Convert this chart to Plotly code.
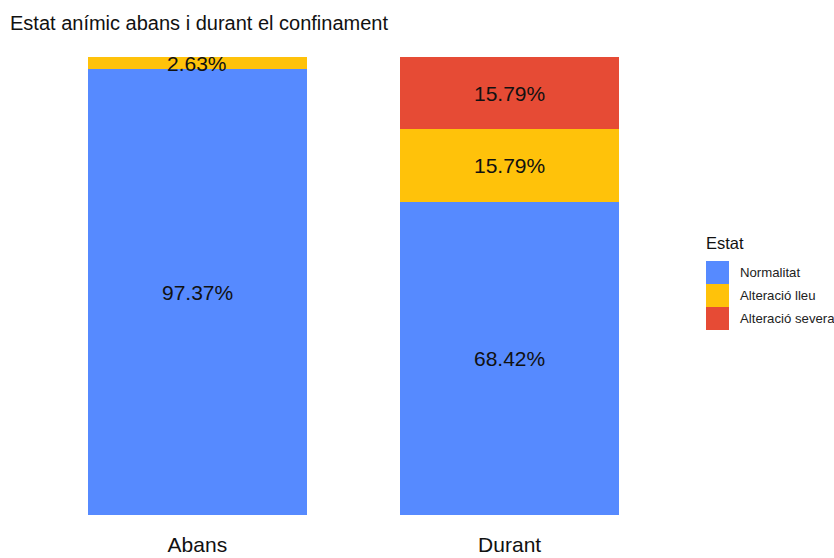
import plotly.graph_objects as go

categories = ["Abans", "Durant"]
series_names = ["Normalitat", "Alteració lleu", "Alteració severa"]
normalitat = [97.37, 68.42]
lleu = [2.63, 15.79]
severa = [0.0, 15.79]
colors = ["#568AFF", "#FFC20A", "#E64B35"]
title = "Estat anímic abans i durant el confinament"
legend_title = "Estat"

FONT = "Liberation Sans, Arial, sans-serif"
series = [normalitat, lleu, severa]
fig = go.Figure()
for name, vals, col in zip(series_names, series, colors):
    fig.add_trace(go.Bar(x=categories, y=vals, name=name, marker=dict(color=col, line=dict(width=0)),
                         width=0.7, showlegend=False, hoverinfo="skip"))

# labels at segment midpoints
for i, cat in enumerate(categories):
    base = 0.0
    for vals in series:
        v = vals[i]
        if v > 0:
            fig.add_annotation(x=cat, y=base + v / 2, text=f"{v:.2f}%", showarrow=False,
                               font=dict(size=21, color="#111111", family=FONT),
                               xref="x", yref="y")
        base += v

# custom legend
W, H = 834, 558
ml, mr, mt, mb = 10, 137, 57, 43
pw, ph = W - ml - mr, H - mt - mb
def px(x):
    return (x - ml) / pw
def py(y):
    return 1 - (y - mt) / ph

fig.add_annotation(x=px(704), y=py(243), text=legend_title, showarrow=False, xref="paper", yref="paper",
                   xanchor="left", yanchor="middle", font=dict(size=16.5, color="#111111", family=FONT))
for k, (name, col) in enumerate(zip(series_names, colors)):
    y0 = 261 + 23 * k
    fig.add_shape(type="rect", xref="paper", yref="paper", x0=px(706), x1=px(729), y0=py(y0), y1=py(y0 + 23),
                  fillcolor=col, line=dict(width=0))
    fig.add_annotation(x=px(738), y=py(y0 + 11.5), text=name, showarrow=False, xref="paper", yref="paper",
                       xanchor="left", yanchor="middle", font=dict(size=13.2, color="#222222", family=FONT))

fig.update_layout(
    barmode="stack",
    width=W, height=H,
    margin=dict(l=ml, r=mr, t=mt, b=mb, autoexpand=False),
    paper_bgcolor="white", plot_bgcolor="white",
    title=dict(text=title, x=10 / W, xanchor="left", y=1 - 23 / H, yanchor="middle",
               font=dict(size=20, color="#111111", family=FONT)),
    xaxis=dict(range=[-0.6, 1.6], showgrid=False, zeroline=False, showline=False, ticks="",
               tickfont=dict(size=21, color="#111111", family=FONT), ticklabelstandoff=15,
               automargin=False, fixedrange=True),
    yaxis=dict(range=[0, 100], visible=False, fixedrange=True),
    hovermode=False,
)

fig.write_html("out.html", config={"displayModeBar": False},
               post_script="document.body.style.margin='0px';document.body.style.padding='0px';")
